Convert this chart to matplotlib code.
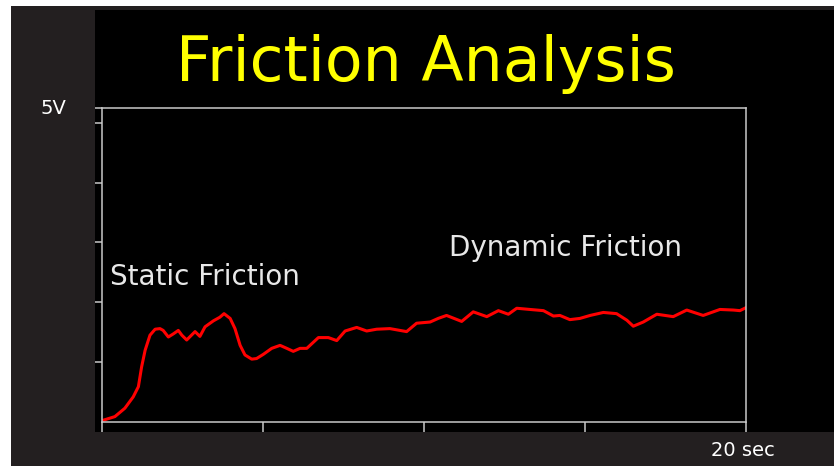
#!/usr/bin/env python3

import matplotlib
matplotlib.use('Agg')
import matplotlib.pyplot as plt
from matplotlib.patches import Rectangle

# friction sensor trace (seconds, volts)
time_s = [0.04, 0.40, 0.71, 0.97, 1.13, 1.23, 1.34, 1.49, 1.65, 1.80,
	1.90, 2.06, 2.21, 2.37, 2.48, 2.63, 2.89, 3.04, 3.20, 3.46,
	3.66, 3.79, 3.98, 4.13, 4.29, 4.44, 4.65, 4.80, 5.01, 5.27,
	5.53, 5.74, 5.94, 6.15, 6.36, 6.72, 7.03, 7.29, 7.55, 7.91,
	8.22, 8.53, 8.94, 9.46, 9.77, 10.19, 10.44, 10.70, 11.17, 11.53,
	11.95, 12.31, 12.62, 12.88, 13.29, 13.71, 14.02, 14.22, 14.53, 14.84,
	15.16, 15.57, 15.98, 16.30, 16.50, 16.81, 17.23, 17.74, 18.16, 18.67,
	19.19, 19.61, 19.81, 20.0]
volts = [0.03, 0.09, 0.23, 0.42, 0.59, 0.92, 1.20, 1.45, 1.55, 1.56,
	1.53, 1.42, 1.47, 1.53, 1.45, 1.37, 1.51, 1.43, 1.59, 1.69,
	1.75, 1.81, 1.73, 1.56, 1.28, 1.12, 1.05, 1.06, 1.13, 1.23,
	1.28, 1.23, 1.18, 1.23, 1.23, 1.41, 1.41, 1.36, 1.52, 1.58,
	1.52, 1.55, 1.56, 1.51, 1.65, 1.67, 1.73, 1.78, 1.68, 1.84,
	1.76, 1.86, 1.80, 1.90, 1.88, 1.86, 1.77, 1.78, 1.71, 1.73,
	1.78, 1.83, 1.81, 1.70, 1.60, 1.67, 1.80, 1.76, 1.87, 1.78,
	1.88, 1.87, 1.86, 1.91]

x_ticks = [0, 5, 10, 15, 20]
y_ticks = [1, 2, 3, 4, 5, 5.25]

W, H = 836, 466
plt.rcParams['font.family'] = ['DejaVu Sans']

fig = plt.figure(figsize=(W / 100, H / 100), dpi=100, facecolor='white')

def px(x0, y0, x1, y1):
	# pixel box -> figure fraction rectangle
	return (x0 / W, 1 - y1 / H), (x1 - x0) / W, (y1 - y0) / H

xy, w, h = px(11, 6, 834, 466)
fig.patches.append(Rectangle(xy, w, h, transform=fig.transFigure, facecolor='#231f20', zorder=-2))
xy, w, h = px(95, 10, 834, 432)
fig.patches.append(Rectangle(xy, w, h, transform=fig.transFigure, facecolor='black', zorder=-1))

ax = fig.add_axes([102 / W, 1 - 422 / H, (746 - 102) / W, (422 - 107.7) / H])
ax.set_facecolor('black')
ax.plot(time_s, volts, color='#ff0000', linewidth=2.2)
ax.set_xlim(0, 20)
ax.set_ylim(0, 5.25)
ax.set_xticks(x_ticks)
ax.set_yticks(y_ticks)
ax.set_xticklabels([])
ax.set_yticklabels([])
for s in ax.spines.values():
	s.set_color('#c8c8c8')
	s.set_linewidth(1.1)
ax.tick_params(axis='x', direction='out', length=7.5, width=1.1, color='#c8c8c8')
ax.tick_params(axis='y', direction='out', length=5, width=1.1, color='#c8c8c8')

fig.text(426 / W, 1 - 81 / H, 'Friction Analysis', color='#ffff00',
	fontsize=44.5, ha='center', va='baseline')
fig.text(110 / W, 1 - 285 / H, 'Static Friction', color='#e8e8e8',
	fontsize=20, ha='left', va='baseline')
fig.text(449 / W, 1 - 256 / H, 'Dynamic Friction', color='#e8e8e8',
	fontsize=20, ha='left', va='baseline')
fig.text(40 / W, 1 - 114 / H, '5V', color='white', fontsize=14,
	ha='left', va='baseline')
fig.text(711 / W, 1 - 456 / H, '20 sec', color='white', fontsize=14,
	ha='left', va='baseline')

plt.savefig('out.png', dpi=100, facecolor='white')
